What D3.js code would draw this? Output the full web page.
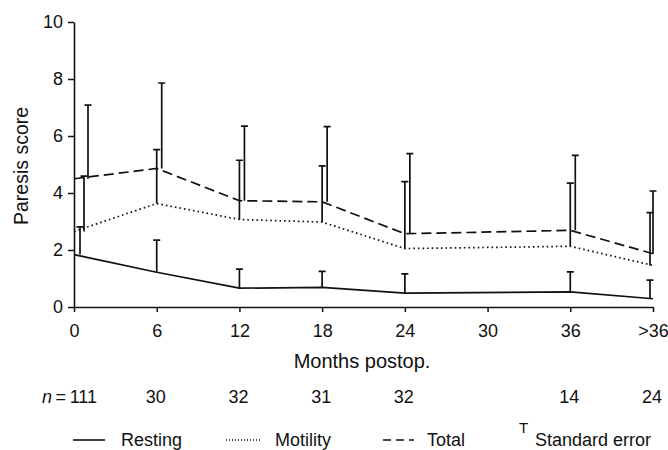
<!DOCTYPE html>
<html>
<head>
<meta charset="utf-8">
<script src="https://cdn.jsdelivr.net/npm/d3@7"></script>
<style>
  body { margin: 0; background: #fff; }
  svg { display: block; }
  text { font-family: "Liberation Sans", Arial, sans-serif; fill: #111; }
</style>
</head>
<body>
<svg class="chart"></svg>
<script>
let width = 668;
let height = 450;

// Months postop (the last point is ">36", drawn at 42)
let months = [0, 6, 12, 18, 24, 36, 42];
let tickMonths = [0, 6, 12, 18, 24, 30, 36, 42];
let tickLabels = ["0", "6", "12", "18", "24", "30", "36", ">36"];
let nCounts = ["111", "30", "32", "31", "32", "14", "24"];

// Mean paresis scores and standard errors
let resting = [1.84, 1.22, 0.66, 0.69, 0.49, 0.53, 0.29];
let restingSE = [0.97, 1.13, 0.67, 0.56, 0.67, 0.7, 0.65];
let motility = [2.65, 3.63, 3.07, 2.98, 2.05, 2.13, 1.46];
let motilitySE = [1.94, 1.89, 2.08, 1.97, 2.35, 2.22, 1.85];
let total = [4.5, 4.86, 3.73, 3.69, 2.57, 2.69, 1.87];
let totalSE = [2.58, 3.0, 2.62, 2.64, 2.81, 2.63, 2.2];

let yTicks = [0, 2, 4, 6, 8, 10];

let series = [
  { name: "Resting", values: resting, se: restingSE, dash: null, barShift: 0 },
  { name: "Motility", values: motility, se: motilitySE, dash: "1.6,3", barShift: 1 },
  { name: "Total", values: total, se: totalSE, dash: "10,5", barShift: 2 }
];

let svg = d3.select(".chart")
  .attr("width", width)
  .attr("height", height);

let x = d3.scaleLinear().domain([0, 42]).range([74, 653]);
let y = d3.scaleLinear().domain([0, 10]).range([307, 22]);

// Axes
let yAxis = svg.append("g")
  .attr("transform", "translate(74,0)")
  .call(d3.axisLeft(y).tickValues(yTicks).tickSize(6).tickSizeOuter(0).tickPadding(5));

let xAxis = svg.append("g")
  .attr("transform", "translate(0,307)")
  .call(d3.axisBottom(x).tickValues(tickMonths)
    .tickFormat(function(d, i) { return tickLabels[i]; })
    .tickSize(5).tickSizeOuter(0).tickPadding(12));

[yAxis, xAxis].forEach(function(ax) {
  ax.select(".domain").attr("stroke", "#111").attr("stroke-width", 1.6);
  ax.selectAll(".tick line").attr("stroke", "#111").attr("stroke-width", 1.5);
  ax.selectAll(".tick text")
    .attr("font-family", "Liberation Sans, Arial, sans-serif")
    .attr("font-size", 18)
    .attr("fill", "#111");
});

// Axis titles
svg.append("text")
  .attr("transform", "translate(28,166) rotate(-90)")
  .attr("text-anchor", "middle")
  .attr("font-size", 19.5)
  .text("Paresis score");

svg.append("text")
  .attr("x", 362)
  .attr("y", 368)
  .attr("text-anchor", "middle")
  .attr("font-size", 20)
  .text("Months postop.");

// n per time point
let nRow = svg.append("g").attr("font-size", 18);
nCounts.forEach(function(n, i) {
  if (i === 0) {
    let t = nRow.append("text")
      .attr("x", x(months[i]) + 23)
      .attr("y", 403)
      .attr("text-anchor", "end");
    t.append("tspan").attr("font-style", "italic").text("n");
    t.append("tspan").text("\u2009=\u2009" + n);
  } else {
    nRow.append("text")
      .attr("x", x(months[i]) - 1)
      .attr("y", 403)
      .attr("text-anchor", "middle")
      .text(n);
  }
});

// Lines
let line = d3.line()
  .x(function(d, i) { return x(months[i]); })
  .y(function(d) { return y(d); });

svg.append("g").selectAll("path")
  .data(series)
  .enter().append("path")
  .attr("d", function(s) { return line(s.values); })
  .attr("fill", "none")
  .attr("stroke", "#111")
  .attr("stroke-width", 1.7)
  .attr("stroke-dasharray", function(s) { return s.dash; });

// Standard error bars (upper half only), nudged so they don't overlap
function barX(s, i) {
  let base = x(months[i]);
  if (i === 0) return base + 6 + s.barShift * 4;
  if (i === months.length - 1) return base - 3 + (s.barShift === 2 ? 3 : 0);
  return base + (s.barShift === 2 ? 5 : 0);
}

series.forEach(function(s) {
  let g = svg.append("g")
    .attr("stroke", "#111")
    .attr("stroke-width", 1.7)
    .attr("fill", "none");
  g.selectAll("path")
    .data(s.values)
    .enter().append("path")
    .attr("d", function(d, i) {
      let bx = barX(s, i);
      let top = y(d + s.se[i]);
      return "M" + bx + "," + y(d) + "V" + top + "M" + (bx - 3.5) + "," + top + "H" + (bx + 3.5);
    });
});

// Legend
let legendItems = [
  { label: "Resting", dash: null, x1: 73, x2: 105, tx: 121 },
  { label: "Motility", dash: "1,2", x1: 226, x2: 262, tx: 275 },
  { label: "Total", dash: "8,5", x1: 383, x2: 414, tx: 427 }
];

let legend = svg.append("g");
legendItems.forEach(function(item) {
  legend.append("line")
    .attr("x1", item.x1).attr("x2", item.x2)
    .attr("y1", 440).attr("y2", 440)
    .attr("stroke", "#111")
    .attr("stroke-width", 1.6)
    .attr("stroke-dasharray", item.dash);
  legend.append("text")
    .attr("x", item.tx)
    .attr("y", 446)
    .attr("font-size", 18)
    .text(item.label);
});

legend.append("text")
  .attr("x", 523.5)
  .attr("y", 433)
  .attr("text-anchor", "middle")
  .attr("font-size", 15)
  .text("T");

legend.append("text")
  .attr("x", 535)
  .attr("y", 446)
  .attr("font-size", 18)
  .text("Standard error");
</script>
</body>
</html>
